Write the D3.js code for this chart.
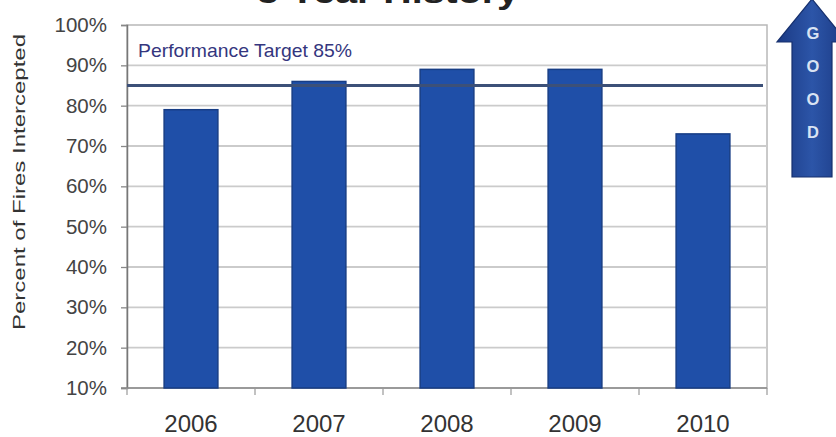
<!DOCTYPE html>
<html>
<head>
<meta charset="utf-8">
<script src="https://cdn.jsdelivr.net/npm/d3@7"></script>
<style>
  html, body { margin: 0; padding: 0; background: #ffffff; }
  svg { display: block; }
  text { font-family: "Liberation Sans", Arial, sans-serif; }
</style>
</head>
<body>
<script>
// Fire interception rate by year, against the 85% performance target
const years = ["2006", "2007", "2008", "2009", "2010"];
const interceptedPct = [79, 86, 89, 89, 73];
const targetPct = 85;
const targetLabel = "Performance Target 85%";
const yTicks = [10, 20, 30, 40, 50, 60, 70, 80, 90, 100];
const titleText = "5 Year History";
const yTitle = "Percent of Fires Intercepted";
const arrowLetters = ["G", "O", "O", "D"];

const W = 836, H = 437;
const plot = { left: 127, right: 767, top: 25, bottom: 388 };

const svg = d3.select("body").append("svg")
  .attr("width", W).attr("height", H);

const x = d3.scaleBand()
  .domain(years)
  .range([plot.left, plot.right])
  .paddingInner(0.58)
  .paddingOuter(0.29);

const y = d3.scaleLinear()
  .domain([10, 100])
  .range([plot.bottom, plot.top]);

// Title, running off the top edge of the page
svg.append("text")
  .attr("x", 388).attr("y", 3)
  .attr("text-anchor", "middle")
  .attr("font-size", 32).attr("font-weight", "bold")
  .attr("fill", "#222")
  .attr("textLength", 262).attr("lengthAdjust", "spacingAndGlyphs")
  .text(titleText);

// Plot frame
svg.append("rect")
  .attr("x", plot.left).attr("y", plot.top)
  .attr("width", plot.right - plot.left).attr("height", plot.bottom - plot.top)
  .attr("fill", "#ffffff").attr("stroke", "#b8b8b8").attr("stroke-width", 1.5);

// Horizontal gridlines
svg.append("g").selectAll("line")
  .data(yTicks.filter(d => d > 10 && d < 100))
  .join("line")
  .attr("x1", plot.left).attr("x2", plot.right)
  .attr("y1", d => y(d)).attr("y2", d => y(d))
  .attr("stroke", "#cbcbcb").attr("stroke-width", 1.8);

// Left axis with percent labels
const yAxis = d3.axisLeft(y)
  .tickValues(yTicks)
  .tickFormat(d => d + "%")
  .tickSize(6)
  .tickPadding(14);

const gy = svg.append("g")
  .attr("transform", `translate(${plot.left},0)`)
  .call(yAxis);
gy.select(".domain").attr("stroke", "#777").attr("stroke-width", 1.5);
gy.selectAll(".tick line").attr("stroke", "#888").attr("stroke-width", 1.3);
gy.selectAll(".tick text")
  .attr("font-family", "'Liberation Sans', Arial, sans-serif")
  .attr("font-size", 20.5)
  .attr("fill", "#444");

// Bottom axis line and category boundary ticks
svg.append("line")
  .attr("x1", plot.left - 6).attr("x2", plot.right)
  .attr("y1", plot.bottom).attr("y2", plot.bottom)
  .attr("stroke", "#8a8a8a").attr("stroke-width", 1.5);

const boundaries = d3.range(years.length + 1).map(i => Math.min(plot.left + i * x.step(), plot.right));
svg.append("g").selectAll("line")
  .data(boundaries)
  .join("line")
  .attr("x1", d => d).attr("x2", d => d)
  .attr("y1", plot.bottom).attr("y2", plot.bottom + 7)
  .attr("stroke", "#999").attr("stroke-width", 1.2);

// Year labels
svg.append("g").selectAll("text")
  .data(years)
  .join("text")
  .attr("x", d => x(d) + x.bandwidth() / 2)
  .attr("y", 432)
  .attr("text-anchor", "middle")
  .attr("font-size", 24)
  .attr("fill", "#333")
  .text(d => d);

// Bars
svg.append("g").selectAll("rect")
  .data(years.map((yr, i) => ({ yr, v: interceptedPct[i] })))
  .join("rect")
  .attr("x", d => x(d.yr))
  .attr("y", d => y(d.v))
  .attr("width", x.bandwidth())
  .attr("height", d => y(10) - y(d.v))
  .attr("fill", "#1f4fa8")
  .attr("stroke", "#173d85")
  .attr("stroke-width", 1.5);

// Performance target line and label
svg.append("line")
  .attr("x1", plot.left).attr("x2", plot.right - 4)
  .attr("y1", y(targetPct)).attr("y2", y(targetPct))
  .attr("stroke", "#3c5078").attr("stroke-width", 3);

svg.append("text")
  .attr("x", 138).attr("y", 57)
  .attr("font-size", 19)
  .attr("fill", "#34367e")
  .attr("textLength", 214).attr("lengthAdjust", "spacingAndGlyphs")
  .text(targetLabel);

// Y axis title
svg.append("text")
  .attr("transform", "translate(25,182) rotate(-90)")
  .attr("text-anchor", "middle")
  .attr("font-size", 16.5)
  .attr("fill", "#333")
  .attr("textLength", 296).attr("lengthAdjust", "spacingAndGlyphs")
  .text(yTitle);

// "GOOD" direction arrow
const defs = svg.append("defs");
const grad = defs.append("linearGradient")
  .attr("id", "arrowFill").attr("x1", "0").attr("x2", "1").attr("y1", "0").attr("y2", "0");
grad.append("stop").attr("offset", "0").attr("stop-color", "#1b3a84");
grad.append("stop").attr("offset", "0.5").attr("stop-color", "#2c55a8");
grad.append("stop").attr("offset", "1").attr("stop-color", "#1b3a84");

const ax = 812;
const arrowPath = d3.path();
arrowPath.moveTo(ax, -1);
arrowPath.lineTo(ax + 35, 42);
arrowPath.lineTo(ax + 20, 42);
arrowPath.lineTo(ax + 20, 177);
arrowPath.lineTo(ax - 20, 177);
arrowPath.lineTo(ax - 20, 42);
arrowPath.lineTo(ax - 35, 42);
arrowPath.closePath();
svg.append("path")
  .attr("d", arrowPath.toString())
  .attr("fill", "url(#arrowFill)")
  .attr("stroke", "#16306e").attr("stroke-width", 1.2);

svg.append("g").selectAll("text")
  .data(arrowLetters)
  .join("text")
  .attr("x", ax + 1)
  .attr("y", (d, i) => 33 + i * 33 + 6)
  .attr("text-anchor", "middle")
  .attr("font-size", 16.5).attr("font-weight", "bold")
  .attr("fill", "#d9e3f3")
  .text(d => d);
</script>
</body>
</html>
